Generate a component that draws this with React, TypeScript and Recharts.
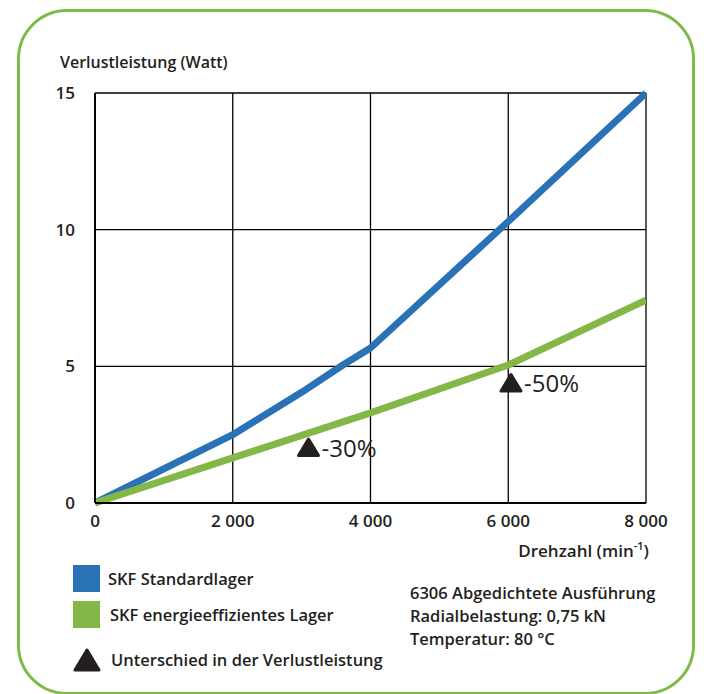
import { CartesianGrid, ComposedChart, Line, Scatter, XAxis, YAxis } from 'recharts'

const speedTicks = [0, 2000, 4000, 6000, 8000]
const lossTicks = [0, 5, 10, 15]

const standardSeries = [
  { x: 0, y: 0 },
  { x: 2000, y: 2.5 },
  { x: 3000, y: 4.05 },
  { x: 3600, y: 5.05 },
  { x: 4000, y: 5.67 },
  { x: 6000, y: 10.3 },
  { x: 8000, y: 15 },
]

const efficientSeries = [
  { x: 0, y: 0 },
  { x: 2000, y: 1.65 },
  { x: 4000, y: 3.3 },
  { x: 6000, y: 5.05 },
  { x: 8000, y: 7.42 },
]

const diffMarkers = [
  { x: 3100, y: 2.05, label: '-30%' },
  { x: 6040, y: 4.41, label: '-50%' },
]

const legendItems = [
  { name: 'SKF Standardlager', color: '#2a72b6', kind: 'square' },
  { name: 'SKF energieeffizientes Lager', color: '#83b748', kind: 'square' },
  { name: 'Unterschied in der Verlustleistung', color: '#231f20', kind: 'triangle' },
]

const notes = ['6306 Abgedichtete Ausführung', 'Radialbelastung: 0,75 kN', 'Temperatur: 80 °C']

const ink = '#231f20'
const font = "'Open Sans', sans-serif"

function Marker(props: any) {
  const { cx, cy, payload } = props
  return (
    <g>
      <polygon
        points={`${cx},${cy - 8} ${cx + 10},${cy + 8.5} ${cx - 10},${cy + 8.5}`}
        fill={ink}
        stroke={ink}
        strokeWidth={3}
        strokeLinejoin="round"
      />
      <text x={cx + 13} y={cy + 10} fontSize={24} fontFamily={font} fill={ink}>
        {payload.label}
      </text>
    </g>
  )
}

const fmt = (v: number) => (v >= 1000 ? `${Math.floor(v / 1000)} ${String(v % 1000).padStart(3, '0')}` : String(v))

export default function App() {
  const tick = { fill: ink, fontSize: 17, fontWeight: 600, fontFamily: font }
  return (
    <div style={{ position: 'absolute', left: 0, top: 0, width: 709, height: 694, background: '#fff', fontFamily: font, color: ink }}>
      <div
        style={{
          position: 'absolute', left: 17, top: 9, width: 678, height: 686,
          boxSizing: 'border-box', border: '3px solid #7dba48', borderRadius: 50,
        }}
      />
      <div style={{ position: 'absolute', left: 60, top: 51, fontSize: 16, fontWeight: 600 }}>Verlustleistung (Watt)</div>
      <ComposedChart
        width={709}
        height={694}
        margin={{ top: 93, right: 63, bottom: 161, left: 55 }}
        style={{ position: 'absolute', left: 0, top: 0 }}
      >
        <CartesianGrid stroke="#000" strokeWidth={1.3} strokeOpacity={1} />
        <XAxis
          type="number"
          dataKey="x"
          domain={[0, 8000]}
          ticks={speedTicks}
          tickFormatter={fmt}
          height={30}
          tickSize={0}
          tickMargin={12}
          axisLine={{ stroke: '#000', strokeWidth: 2 }}
          tick={tick}
          allowDataOverflow
        />
        <YAxis
          type="number"
          dataKey="y"
          domain={[0, 15]}
          ticks={lossTicks}
          width={40}
          tickSize={0}
          tickMargin={20}
          axisLine={{ stroke: '#000', strokeWidth: 2 }}
          tick={tick}
        />
        <Line data={standardSeries} dataKey="y" type="linear" stroke="#2a72b6" strokeWidth={7} strokeLinejoin="round" dot={false} activeDot={false} isAnimationActive={false} />
        <Line data={efficientSeries} dataKey="y" type="linear" stroke="#83b748" strokeWidth={7} strokeLinejoin="round" dot={false} activeDot={false} isAnimationActive={false} />
        <Scatter data={diffMarkers} dataKey="y" shape={Marker} isAnimationActive={false} />
      </ComposedChart>
      <div style={{ position: 'absolute', right: 60, top: 538, fontSize: 17, fontWeight: 600 }}>
        Drehzahl (min<sup style={{ fontSize: 11 }}>-1</sup>)
      </div>
      {legendItems.map((item, i) => (
        <div key={item.name} style={{ position: 'absolute', left: 73, top: [565, 601, 646][i], display: 'flex', alignItems: 'center', height: 27 }}>
          {item.kind === 'square' ? (
            <div style={{ width: 27, height: 27, background: item.color }} />
          ) : (
            <svg width={28} height={26}>
              <polygon points="14,3 26,23 2,23" fill={item.color} stroke={item.color} strokeWidth={3} strokeLinejoin="round" />
            </svg>
          )}
          <span style={{ marginLeft: i === 0 ? 8 : 10, fontSize: 16.5, fontWeight: 600, whiteSpace: 'nowrap' }}>{item.name}</span>
        </div>
      ))}
      {notes.map((line, i) => (
        <div key={line} style={{ position: 'absolute', left: 410, top: 581 + i * 23, fontSize: 16.5, fontWeight: 600, whiteSpace: 'nowrap' }}>
          {line}
        </div>
      ))}
    </div>
  )
}
